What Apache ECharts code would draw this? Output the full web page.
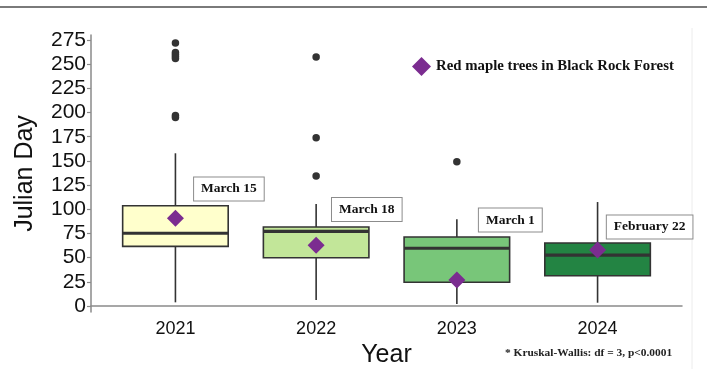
<!DOCTYPE html>
<html>
<head>
<meta charset="utf-8">
<script src="https://cdn.jsdelivr.net/npm/echarts@6/dist/echarts.min.js"></script>
<style>
  html, body { margin: 0; padding: 0; background: #fff; }
  #chart { width: 707px; height: 369px; }
</style>
</head>
<body>
<div id="chart"></div>
<script>
// ---- data ----
const categories = ['2021', '2022', '2023', '2024'];
const whiskerLow = [3.8, 6.2, 2.1, 3.4];
const q1 = [61.7, 49.9, 24.5, 31.3];
const medians = [75.2, 77.2, 59.7, 52.7];
const q3 = [103.7, 81.7, 71.3, 65.1];
const whiskerHigh = [157.9, 105.4, 89.6, 107.5];
const outlierYear = ['2021', '2021', '2021', '2021', '2021', '2021', '2021', '2022', '2022', '2022', '2023'];
const outlierValue = [272, 262, 260, 258, 256, 197, 195, 257.4, 174, 134.4, 149.2];
const meanValues = [90.7, 62.7, 26.9, 57.9];
const meanLabels = ['March 15', 'March 18', 'March 1', 'February 22'];
const labelAnchorX = [1.38, 2.36, 3.38, 4.37];
const labelAnchorY = [121, 99.8, 88.9, 81.7];
const yTicks = [0, 25, 50, 75, 100, 125, 150, 175, 200, 225, 250, 275];
const boxColors = ['#FFFFCC', '#C2E699', '#78C679', '#238443'];
const seriesName = 'Red maple trees in Black Rock Forest';
const footnote = '* Kruskal-Wallis: df = 3, p<0.0001';

// ---- build ----
const pos = c => categories.indexOf(c) + 1;
const boxData = categories.map((c, i) => [pos(c), whiskerLow[i], q1[i], medians[i], q3[i], whiskerHigh[i]]);
const outlierData = outlierYear.map((c, i) => [pos(c), outlierValue[i]]);
const meanData = categories.map((c, i) => [pos(c), meanValues[i]]);
const labelData = meanLabels.map((t, i) => ({ value: [labelAnchorX[i], labelAnchorY[i]], name: t }));

const chart = echarts.init(document.getElementById('chart'), null, { renderer: 'canvas' });
const dark = '#333333';
const axisGray = '#8a8a8a';
const serif = '"Liberation Serif", "Times New Roman", serif';
const sans = '"Liberation Sans", Arial, sans-serif';

const option = {
  animation: false,
  backgroundColor: '#ffffff',
  grid: { left: 91, top: 35, width: 591, height: 277, containLabel: false, outerBoundsMode: 'none' },
  legend: {
    show: true,
    data: [seriesName],
    left: 412,
    top: 57,
    padding: 0,
    itemWidth: 19,
    itemHeight: 19,
    icon: 'diamond',
    textStyle: { fontFamily: serif, fontWeight: 'bold', fontSize: 14.8, color: '#111' },
    selectedMode: false
  },
  xAxis: {
    type: 'value',
    min: 0.4,
    max: 4.6,
    name: 'Year',
    nameLocation: 'middle',
    nameGap: 27,
    nameTextStyle: { fontFamily: sans, fontSize: 25, color: '#111' },
    axisLine: { show: true, lineStyle: { color: axisGray, width: 1.5 } },
    axisTick: { show: false },
    splitLine: { show: false },
    axisLabel: {
      customValues: [1, 2, 3, 4],
      formatter: v => categories[Math.round(v) - 1] || '',
      fontFamily: sans, fontSize: 18, color: '#111', margin: 8
    }
  },
  yAxis: {
    type: 'value',
    min: -6.2,
    max: 280.2,
    name: 'Julian Day',
    nameLocation: 'middle',
    nameGap: 53,
    nameTextStyle: { fontFamily: sans, fontSize: 25, color: '#111' },
    axisLine: { show: true, lineStyle: { color: axisGray, width: 1.5 } },
    axisTick: { show: true, customValues: yTicks, length: 4, lineStyle: { color: axisGray, width: 1.2 } },
    splitLine: { show: false },
    axisLabel: {
      customValues: yTicks,
      fontFamily: sans, fontSize: 21, color: '#111', margin: 5
    }
  },
  series: [
    {
      type: 'custom',
      name: 'box',
      data: boxData,
      encode: { x: 0, y: [1, 2, 3, 4, 5] },
      z: 2,
      renderItem: (params, api) => {
        const x = api.value(0);
        const half = 0.375;
        const lo = api.coord([x, api.value(1)]);
        const b1 = api.coord([x - half, api.value(2)]);
        const b3 = api.coord([x + half, api.value(4)]);
        const hi = api.coord([x, api.value(5)]);
        const ml = api.coord([x - half, api.value(3)]);
        const mr = api.coord([x + half, api.value(3)]);
        return {
          type: 'group',
          children: [
            { type: 'line', shape: { x1: lo[0], y1: lo[1], x2: hi[0], y2: hi[1] }, style: { stroke: dark, lineWidth: 1.6 } },
            { type: 'rect', shape: { x: b1[0], y: b3[1], width: b3[0] - b1[0], height: b1[1] - b3[1] },
              style: { fill: boxColors[params.dataIndex], stroke: dark, lineWidth: 1.6 } },
            { type: 'line', shape: { x1: ml[0], y1: ml[1], x2: mr[0], y2: mr[1] }, style: { stroke: dark, lineWidth: 3.2 } }
          ]
        };
      }
    },
    {
      type: 'scatter',
      name: 'outliers',
      data: outlierData,
      symbol: 'circle',
      symbolSize: 7.5,
      itemStyle: { color: dark, opacity: 1 },
      z: 3
    },
    {
      type: 'scatter',
      name: seriesName,
      data: meanData,
      symbol: 'diamond',
      symbolSize: 17,
      itemStyle: { color: '#7B2C90', opacity: 1 },
      z: 4
    },
    {
      type: 'scatter',
      name: 'labels',
      data: labelData,
      symbolSize: 1,
      itemStyle: { color: 'rgba(0,0,0,0)', opacity: 1 },
      z: 5,
      silent: true,
      label: {
        show: true,
        position: 'inside',
        formatter: p => p.name,
        fontFamily: serif,
        fontWeight: 'bold',
        fontSize: 13.5,
        color: '#111',
        opacity: 1,
        backgroundColor: '#ffffff',
        borderColor: '#8c8c8c',
        borderWidth: 1,
        padding: [5, 7, 4, 7]
      }
    }
  ],
  graphic: [
    { type: 'line', shape: { x1: 0, y1: 7, x2: 707, y2: 7 }, style: { stroke: '#7a7a7a', lineWidth: 2 }, silent: true },
    { type: 'line', shape: { x1: 692, y1: 28, x2: 692, y2: 369 }, style: { stroke: '#ececec', lineWidth: 1 }, silent: true },
    {
      type: 'text', left: 505, top: 348,
      style: { text: footnote, font: 'bold 11.4px ' + serif, fill: '#222' }
    }
  ]
};
chart.setOption(option);
</script>
</body>
</html>
